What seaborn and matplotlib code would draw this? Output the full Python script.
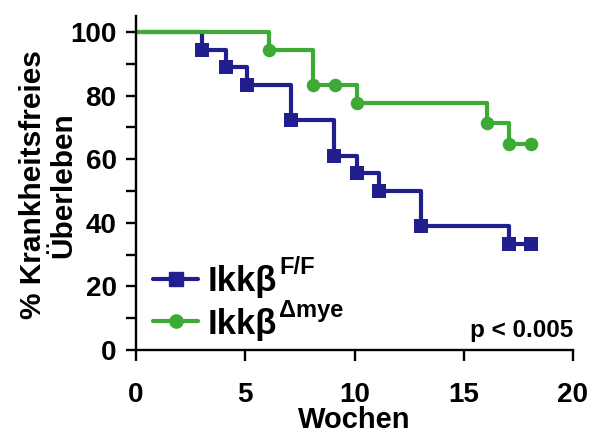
import matplotlib
matplotlib.use("Agg")
import matplotlib.pyplot as plt
from matplotlib.lines import Line2D
from matplotlib.ticker import MultipleLocator
from matplotlib.transforms import IdentityTransform
import seaborn as sns
import pandas as pd

# ---- data ----
ff_weeks = [0, 3.0, 4.1, 5.1, 7.1, 9.05, 10.1, 11.1, 13.05, 17.05, 18.1]
ff_surv = [100, 94.4, 88.9, 83.3, 72.2, 61.1, 55.6, 50.0, 38.9, 33.3, 33.3]
mye_weeks = [0, 6.1, 8.1, 9.1, 10.1, 16.05, 17.05, 18.1]
mye_surv = [100, 94.4, 83.3, 83.3, 77.8, 71.5, 64.8, 64.8]

legend_base = ["Ikkβ", "Ikkβ"]
legend_sup = ["F/F", "Δmye"]
x_ticks = [0, 5, 10, 15, 20]
y_ticks = [0, 20, 40, 60, 80, 100]
x_label = "Wochen"
y_label = "% Krankheitsfreies\nÜberleben"
p_text = "p < 0.005"

blue = "#211E8E"
green = "#3DAA35"

sns.set_style("ticks")
plt.rcParams["font.family"] = ["Liberation Sans", "DejaVu Sans"]
plt.rcParams["font.weight"] = "bold"
for k in ["text.color", "axes.labelcolor", "xtick.color", "ytick.color",
          "axes.edgecolor"]:
    plt.rcParams[k] = "black"

df_ff = pd.DataFrame({"t": ff_weeks, "s": ff_surv})
df_mye = pd.DataFrame({"t": mye_weeks, "s": mye_surv})

fig = plt.figure(figsize=(5.89, 4.33), dpi=100)
ax = fig.add_axes([136 / 589, 83 / 433, 437 / 589, 334 / 433])

lw = 3.0
sns.lineplot(data=df_ff, x="t", y="s", ax=ax, color=blue, linewidth=lw,
             drawstyle="steps-post", estimator=None, sort=False)
sns.scatterplot(data=df_ff.iloc[1:], x="t", y="s", ax=ax, color=blue,
                marker="s", s=95, linewidth=0, zorder=3)
sns.lineplot(data=df_mye, x="t", y="s", ax=ax, color=green, linewidth=lw,
             drawstyle="steps-post", estimator=None, sort=False)
sns.scatterplot(data=df_mye.iloc[1:], x="t", y="s", ax=ax, color=green,
                marker="o", s=95, linewidth=0, zorder=3)

ax.set_xlim(0, 20)
ax.set_ylim(0, 105)
ax.set_xticks(x_ticks)
ax.set_yticks(y_ticks)
ax.yaxis.set_minor_locator(MultipleLocator(10))
for s in ["top", "right"]:
    ax.spines[s].set_visible(False)
for s in ["left", "bottom"]:
    ax.spines[s].set_linewidth(1.7)
ax.tick_params(axis="both", which="both", direction="out", width=1.7,
               labelsize=20)
ax.tick_params(axis="y", which="both", length=7, pad=7)
ax.tick_params(axis="x", which="major", length=8, pad=15)
for lab in ax.get_xticklabels() + ax.get_yticklabels():
    lab.set_fontweight("bold")

ax.set_xlabel(x_label, fontsize=21, fontweight="bold", labelpad=-1.5)
ax.set_ylabel(y_label, fontsize=21.5, fontweight="bold", linespacing=1.1)
ax.yaxis.set_label_coords(-0.135, 0.494)

ax.text(20, 4, p_text, ha="right", va="baseline", fontsize=17.5,
        fontweight="bold")

handles = [
    Line2D([], [], color=blue, lw=lw, marker="s", markersize=9.5),
    Line2D([], [], color=green, lw=lw, marker="o", markersize=9.5),
]
leg = ax.legend(handles, legend_base, loc="upper left",
                bbox_to_anchor=(0.04, 0.255),
                frameon=False, borderpad=0, borderaxespad=0,
                handlelength=1.27, handletextpad=0.3, labelspacing=0.28,
                prop={"family": "Liberation Sans", "weight": "bold",
                      "size": 25})

fig.canvas.draw()
renderer = fig.canvas.get_renderer()
for t, sup in zip(leg.get_texts(), legend_sup):
    bb = t.get_window_extent(renderer)
    bx, by = t.get_transform().transform(t.get_position())
    fig.text(bb.x1 + 2, by + 17, sup, transform=IdentityTransform(),
             ha="left", va="baseline", fontsize=17, fontweight="bold")

fig.savefig("out.png", dpi=100)
